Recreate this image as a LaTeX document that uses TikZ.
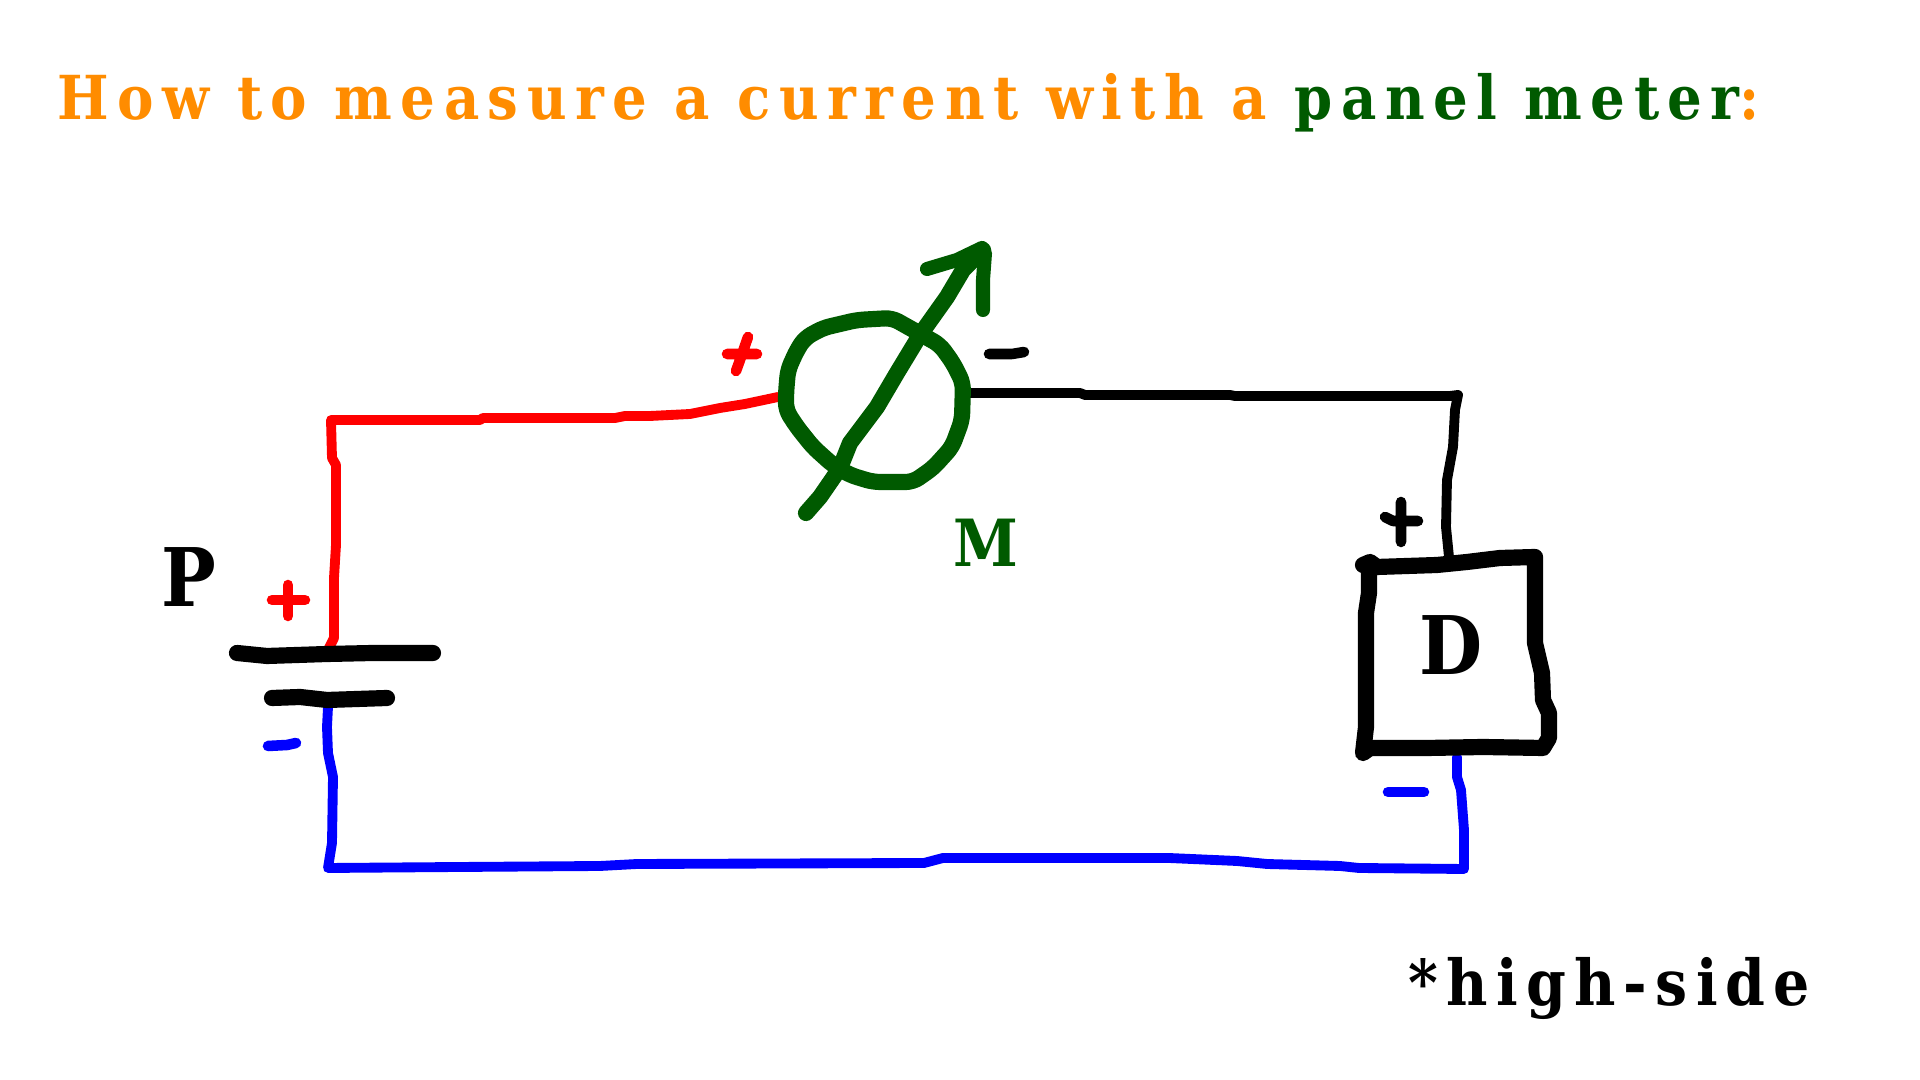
\documentclass[tikz,border=0pt]{standalone}
\usepackage{fontspec}
\setmainfont{DejaVu Serif Condensed}
\newfontfamily\titlefont[LetterSpace=14]{DejaVu Serif Condensed Bold}
\newfontfamily\sidefont[LetterSpace=13]{DejaVu Serif Condensed Bold}
\newfontfamily\labelfont{DejaVu Serif Condensed Bold}
\definecolor{meterorange}{HTML}{FF8C00}
\definecolor{metergreen}{HTML}{005A00}
\tikzset{
    stroke/.style={line cap=round,line join=round},
    thinwire/.style={stroke,line width=2.8pt},
    fatwire/.style={stroke,line width=4.6pt},
    signmark/.style={stroke,line width=3pt},
    titletext/.style={anchor=base west,inner sep=0pt,font=\titlefont\fontsize{17.25}{20}\selectfont},
    bigletter/.style={inner sep=0pt,font=\labelfont\fontsize{23}{26}\selectfont}
}
\begin{document}
\begin{tikzpicture}[x=0.01cm,y=-0.01cm]
    \useasboundingbox (0,0) rectangle (1920,1080);

    \node[titletext] (title) at (57,120) {\textcolor{meterorange}{How to measure a current with a }\textcolor{metergreen}{panel meter}\textcolor{meterorange}{:}};
    \node[titletext,font=\sidefont\fontsize{18}{20}\selectfont] (side) at (1408,1006) {*high-side};

    % battery
    \node[bigletter] (plabel) at (189,577) {P};
    \draw[thinwire,red] (329,648) -- (334,638) -- (334,578) -- (336,545) -- (336,465) -- (332,458) -- (331,420) -- (480,420) -- (483,418) -- (615,418) -- (625,416) -- (650,416) -- (690,414) -- (720,408) -- (745,404) -- (778,397);
    \draw[thinwire,blue] (328,707) -- (327,727) -- (328,753) -- (333,777) -- (332,843) -- (328,868) -- (459,867) -- (600,866) -- (637,864) -- (924,863) -- (943,858) -- (1169,858) -- (1237,861) -- (1267,864) -- (1340,866) -- (1359,868) -- (1464,869) -- (1464,830) -- (1461,790) -- (1457,777) -- (1457,757);
    \draw[fatwire] (237,653) -- (267,656) -- (327,654) -- (373,653) -- (433,653);
    \draw[fatwire] (272,698) -- (300,697) -- (327,700) -- (387,698);
    \draw[signmark,red] (272,600) -- (305,600) (288,585) -- (288,616);
    \draw[signmark,blue] (268,746) -- (287,745) -- (296,743);

    % meter
    \draw[thinwire] (970,393) -- (1080,393) -- (1085,395) -- (1230,395) -- (1235,396) -- (1450,396) -- (1458,395) -- (1455,410) -- (1453,447) -- (1447,480) -- (1446,527) -- (1449,557);
    \draw[fatwire,metergreen,rounded corners=2pt] (786,393) -- (788,370) -- (797,350) -- (805,338) -- (823,328) -- (857,320) -- (892,318) -- (917,332) -- (940,345) -- (953,363) -- (963,383) -- (962,420) -- (952,447) -- (933,468) -- (913,482) -- (873,482) -- (850,475) -- (833,465) -- (813,447) -- (797,427) -- (786,410) -- cycle;
    \draw[fatwire,metergreen] (806,513) -- (820,497) -- (840,468) -- (850,443) -- (877,407) -- (897,373) -- (920,335) -- (947,297) -- (963,270) -- (983,250);
    \draw[fatwire,metergreen,line width=4pt] (927,269) -- (957,260) -- (982,248) -- (985,253) -- (983,280) -- (983,310);
    \draw[signmark,red] (727,354) -- (757,354) (748,337) -- (740,360) -- (736,371);
    \draw[signmark] (989,354) -- (1012,354) -- (1024,352);
    \node[bigletter,metergreen,font=\labelfont\fontsize{18.5}{20}\selectfont] (mlabel) at (986,543) {M};

    % load
    \draw[signmark] (1401,502) -- (1401,542) (1385,517) -- (1393,521) -- (1418,521);
    \draw[fatwire] (1363,565) -- (1370,562) -- (1377,567) -- (1437,565) -- (1467,562) -- (1500,558) -- (1535,557) -- (1535,643) -- (1542,673) -- (1543,700) -- (1549,713) -- (1549,738) -- (1543,748) -- (1483,747) -- (1427,748) -- (1370,748) -- (1363,753) -- (1366,727) -- (1366,613) -- (1369,593) -- (1369,568);
    \node[bigletter] (dlabel) at (1451,645) {D};
    \draw[signmark,blue] (1388,792) -- (1424,792);
\end{tikzpicture}
\end{document}
